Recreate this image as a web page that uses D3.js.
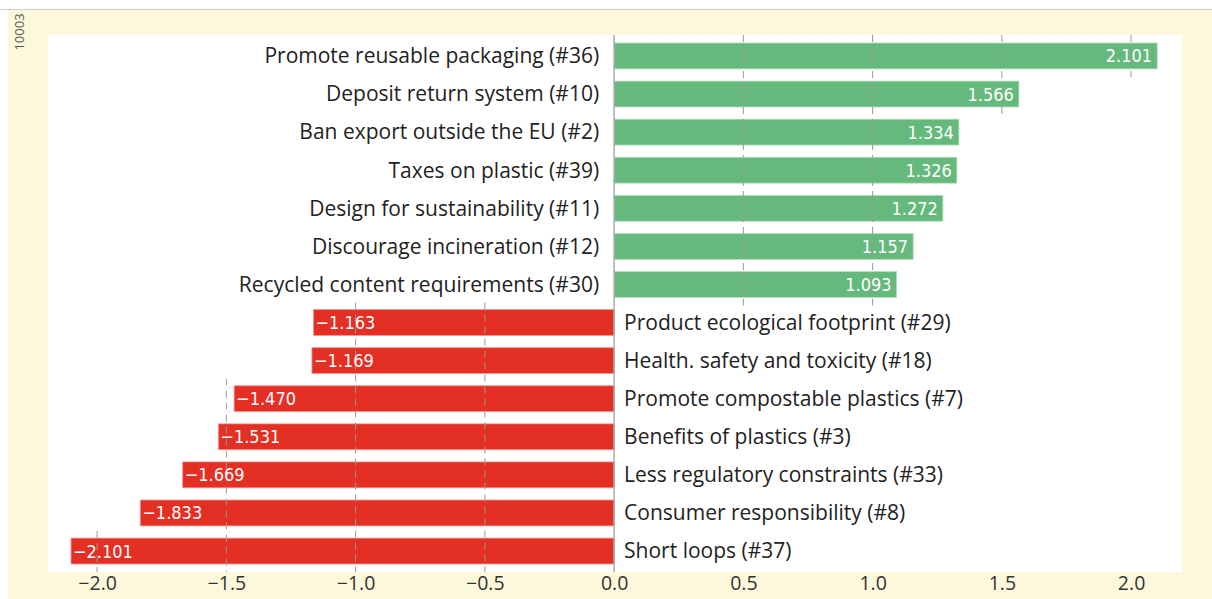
<!DOCTYPE html>
<html>
<head>
<meta charset="utf-8">
<script src="https://cdn.jsdelivr.net/npm/d3@7"></script>
<style>
	html, body { margin: 0; padding: 0; background: #fff; }
	svg { display: block; }
	.cat { font-family: "Open Sans", "Noto Sans", sans-serif; font-size: 21px; fill: #222; }
	.val { font-family: "Liberation Sans Narrow", "DejaVu Sans Condensed", sans-serif; font-size: 18px; fill: #fff; }
	.tick-label { font-family: "Open Sans", "Noto Sans", sans-serif; font-size: 19.5px; fill: #333; }
</style>
</head>
<body>
<svg id="chart"></svg>
<script>
const width = 1212;
const height = 599;

// data, top row first
const categories = [
	"Promote reusable packaging (#36)",
	"Deposit return system (#10)",
	"Ban export outside the EU (#2)",
	"Taxes on plastic (#39)",
	"Design for sustainability (#11)",
	"Discourage incineration (#12)",
	"Recycled content requirements (#30)",
	"Product ecological footprint (#29)",
	"Health. safety and toxicity (#18)",
	"Promote compostable plastics (#7)",
	"Benefits of plastics (#3)",
	"Less regulatory constraints (#33)",
	"Consumer responsibility (#8)",
	"Short loops (#37)",
];
const values = [2.101, 1.566, 1.334, 1.326, 1.272, 1.157, 1.093, -1.163, -1.169, -1.470, -1.531, -1.669, -1.833, -2.101];
const tickValues = [-2.0, -1.5, -1.0, -0.5, 0.0, 0.5, 1.0, 1.5, 2.0];
const sideNote = "10003";

const rows = categories.map((c, i) => ({ label: c, value: values[i] }));

// plot area
const plotLeft = 48;
const plotRight = 1182;
const plotTop = 35;
const plotBottom = 572;

const posColor = "#66b97c";
const negColor = "#e32f24";

const svg = d3.select("#chart").attr("width", width).attr("height", height);

// frame
svg.append("rect").attr("x", 0).attr("y", 0).attr("width", width).attr("height", height).attr("fill", "#fff");
svg.append("rect").attr("x", 8).attr("y", 10).attr("width", width - 8).attr("height", height - 10).attr("fill", "#fdf8dc");
svg.append("line").attr("x1", 0).attr("x2", width).attr("y1", 9.5).attr("y2", 9.5).attr("stroke", "#ccc");
svg.append("rect")
	.attr("x", plotLeft).attr("y", plotTop)
	.attr("width", plotRight - plotLeft).attr("height", plotBottom - plotTop)
	.attr("fill", "#fff");

svg.append("text")
	.attr("transform", `translate(24, 32) rotate(-90)`)
	.attr("text-anchor", "middle")
	.attr("font-family", "Open Sans, sans-serif")
	.attr("font-size", 13)
	.attr("fill", "#555")
	.text(sideNote);

const x = d3.scaleLinear().domain([-2.19, 2.197]).range([plotLeft, plotRight]);
const y = d3.scaleBand()
	.domain(categories)
	.range([plotTop, plotBottom])
	.paddingInner(0.32)
	.paddingOuter(0.21);

const step = y.step();
const yMid = (c) => y(c) + y.bandwidth() / 2;

// bars
svg.append("g")
	.selectAll("rect")
	.data(rows)
	.join("rect")
	.attr("x", (d) => x(Math.min(0, d.value)))
	.attr("y", (d) => y(d.label))
	.attr("width", (d) => Math.abs(x(d.value) - x(0)))
	.attr("height", y.bandwidth())
	.attr("fill", (d) => (d.value >= 0 ? posColor : negColor))
	.attr("stroke", (d) => (d.value >= 0 ? "#b5dcbd" : "#f29a93"))
	.attr("stroke-width", 0.8);

// dashed grid lines, only over the rows whose bars get near the tick
const grid = svg.append("g");
tickValues.filter((t) => t !== 0).forEach((t) => {
	const reach = rows.filter((d) => Math.sign(d.value) === Math.sign(t) && Math.abs(d.value) >= Math.abs(t) - 0.05);
	if (!reach.length) return;
	let y1, y2;
	if (t > 0) {
		y1 = plotTop;
		y2 = yMid(reach[reach.length - 1].label) + step / 2 + 2;
	} else {
		y1 = yMid(reach[0].label) - step / 2 - 1;
		y2 = plotBottom;
	}
	grid.append("line")
		.attr("x1", x(t)).attr("x2", x(t))
		.attr("y1", y1).attr("y2", y2)
		.attr("stroke", "#999")
		.attr("stroke-width", 1)
		.attr("stroke-dasharray", "7,5");
});

// zero line
svg.append("line")
	.attr("x1", x(0)).attr("x2", x(0))
	.attr("y1", plotTop).attr("y2", plotBottom)
	.attr("stroke", "#aaa")
	.attr("stroke-width", 1.5);

// category labels on the other side of zero
svg.append("g")
	.selectAll("text")
	.data(rows)
	.join("text")
	.attr("class", "cat")
	.attr("x", (d) => (d.value >= 0 ? x(0) - 15 : x(0) + 10))
	.attr("y", (d) => yMid(d.label))
	.attr("dy", "0.35em")
	.attr("text-anchor", (d) => (d.value >= 0 ? "end" : "start"))
	.text((d) => d.label);

// value labels inside the bars
const fmt = (v) => d3.format(".3f")(v).replace("-", "\u2212");
svg.append("g")
	.selectAll("text")
	.data(rows)
	.join("text")
	.attr("class", "val")
	.attr("x", (d) => (d.value >= 0 ? x(d.value) - 5 : x(d.value) + 2))
	.attr("y", (d) => yMid(d.label))
	.attr("dy", "0.36em")
	.attr("text-anchor", (d) => (d.value >= 0 ? "end" : "start"))
	.text((d) => fmt(d.value));

// x axis, labels only
const xAxis = d3.axisBottom(x)
	.tickValues(tickValues)
	.tickSize(0)
	.tickPadding(4)
	.tickFormat((d) => d3.format(".1f")(d).replace("-", "\u2212"));

const axisG = svg.append("g")
	.attr("transform", `translate(0, ${plotBottom})`)
	.call(xAxis);
axisG.select(".domain").remove();
axisG.selectAll("text").attr("class", "tick-label").attr("font-size", null).attr("font-family", null).attr("fill", null);
</script>
</body>
</html>
